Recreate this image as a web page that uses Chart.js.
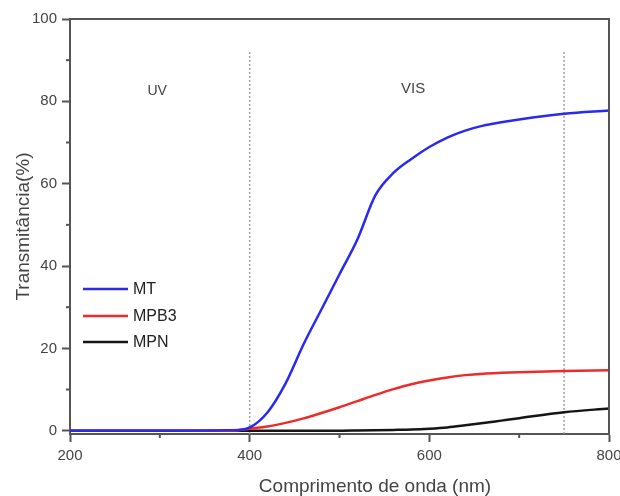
<!DOCTYPE html>
<html>
<head>
<meta charset="utf-8">
<script src="https://cdn.jsdelivr.net/npm/chart.js@4/dist/chart.umd.min.js"></script>
<style>
    html, body { margin: 0; padding: 0; background: #fff; }
    #wrap { width: 620px; height: 496px; }
</style>
</head>
<body>
<div id="wrap"><canvas id="transChart" width="620" height="496"></canvas></div>
<script>
// ========== 数据 ==========
const wavelengths = [200, 300, 380, 400, 420, 440, 460, 480, 500, 520, 540, 560, 580, 600, 620, 640, 660, 680, 700, 750, 800];
const mtValues    = [0, 0, 0.1, 0.8, 4.5, 11.5, 21, 29.5, 38, 46.5, 57.2, 62.6, 66.0, 68.9, 71.2, 72.9, 74.1, 74.9, 75.6, 77.0, 77.8];
const mpb3Values  = [0, 0, 0, 0.5, 1.0, 1.9, 3.0, 4.3, 5.7, 7.2, 8.7, 10.1, 11.3, 12.2, 12.95, 13.5, 13.85, 14.05, 14.2, 14.5, 14.7];
const mpnValues   = [0, 0, 0, 0, 0, 0, 0, 0, 0, 0.05, 0.12, 0.2, 0.3, 0.5, 0.8, 1.3, 1.85, 2.45, 3.05, 4.5, 5.4];
const seriesNames = ['MT', 'MPB3', 'MPN'];
const seriesColors = ['#2a2aee', '#ee2a2a', '#151515'];
const regionLines = [400, 750];
const regionLabels = [{ text: 'UV', x: 297, y: 82.5, size: 14 }, { text: 'VIS', x: 582, y: 83, size: 15 }];
const xTitle = 'Comprimento de onda (nm)';

const fontFamily = '"Liberation Sans", Arial, sans-serif';
const axisColor = '#555';
const textColor = '#444';

function toPoints(vals) {
    return wavelengths.map((w, i) => ({ x: w, y: vals[i] }));
}

// ========== 自定义绘制 ==========
const decorPlugin = {
    id: 'decor',
    beforeDatasetsDraw(chart) {
        const ctx = chart.ctx;
        const xs = chart.scales.x;
        const ys = chart.scales.y;
        ctx.save();
        // 虚线分区
        ctx.setLineDash([2, 2]);
        ctx.lineWidth = 1.5;
        ctx.strokeStyle = '#a0a0a0';
        regionLines.forEach(v => {
            const px = xs.getPixelForValue(v);
            ctx.beginPath();
            ctx.moveTo(px, ys.getPixelForValue(92));
            ctx.lineTo(px, ys.bottom);
            ctx.stroke();
        });
        ctx.setLineDash([]);
        // 区域文字
        ctx.fillStyle = textColor;
        ctx.textAlign = 'center';
        ctx.textBaseline = 'middle';
        regionLabels.forEach(l => {
            ctx.font = l.size + 'px ' + fontFamily;
            ctx.fillText(l.text, xs.getPixelForValue(l.x), ys.getPixelForValue(l.y));
        });
        ctx.restore();
    },
    afterDraw(chart) {
        const ctx = chart.ctx;
        const xs = chart.scales.x;
        const ys = chart.scales.y;
        const a = chart.chartArea;
        ctx.save();
        // 上边框和右边框
        ctx.strokeStyle = axisColor;
        ctx.lineWidth = 2;
        ctx.beginPath();
        ctx.moveTo(a.left, a.top);
        ctx.lineTo(a.right, a.top);
        ctx.lineTo(a.right, a.bottom);
        ctx.stroke();
        // 次刻度
        [300, 500, 700].forEach(v => {
            const px = xs.getPixelForValue(v);
            ctx.beginPath();
            ctx.moveTo(px, a.bottom);
            ctx.lineTo(px, a.bottom + 4);
            ctx.stroke();
        });
        [10, 30, 50, 70, 90].forEach(v => {
            const py = ys.getPixelForValue(v);
            ctx.beginPath();
            ctx.moveTo(a.left, py);
            ctx.lineTo(a.left - 4, py);
            ctx.stroke();
        });
        // X轴标题
        ctx.fillStyle = textColor;
        ctx.font = '19px ' + fontFamily;
        ctx.textAlign = 'center';
        ctx.textBaseline = 'middle';
        ctx.fillText(xTitle, 375, 487);
        // 图例
        ctx.font = '16px ' + fontFamily;
        ctx.textAlign = 'left';
        const legendY = [289, 316, 342];
        chart.data.datasets.forEach((ds, i) => {
            ctx.strokeStyle = ds.borderColor;
            ctx.lineWidth = 2.5;
            ctx.beginPath();
            ctx.moveTo(83, legendY[i]);
            ctx.lineTo(128, legendY[i]);
            ctx.stroke();
            ctx.fillStyle = '#222';
            ctx.fillText(ds.label, 133, legendY[i] + 1);
        });
        ctx.restore();
    }
};

const ctx = document.getElementById('transChart').getContext('2d');
new Chart(ctx, {
    type: 'line',
    data: {
        datasets: seriesNames.map((name, i) => ({
            label: name,
            data: toPoints([mtValues, mpb3Values, mpnValues][i]),
            borderColor: seriesColors[i],
            borderWidth: 2.5,
            pointRadius: 0,
            fill: false,
            cubicInterpolationMode: 'monotone',
            clip: 4
        }))
    },
    options: {
        responsive: false,
        animation: false,
        layout: { padding: { top: 19, right: 11, left: 0, bottom: 0 } },
        plugins: {
            legend: { display: false },
            tooltip: { enabled: false }
        },
        scales: {
            x: {
                type: 'linear',
                min: 200,
                max: 800,
                border: { color: axisColor, width: 2 },
                grid: {
                    drawOnChartArea: false,
                    tickLength: 8,
                    tickWidth: 2,
                    tickColor: c => (c.tick && c.tick.value % 200 === 0) ? axisColor : 'rgba(0,0,0,0)'
                },
                ticks: {
                    stepSize: 100,
                    padding: 5,
                    color: textColor,
                    font: { family: fontFamily, size: 15 },
                    callback: v => (v % 200 === 0 ? v : '')
                },
                afterFit: s => { s.height = 62; s.paddingLeft = 0; s.paddingRight = 0; }
            },
            y: {
                min: -0.8,
                max: 100,
                border: { color: axisColor, width: 2 },
                grid: {
                    drawOnChartArea: false,
                    tickLength: 8,
                    tickWidth: 2,
                    tickColor: axisColor
                },
                ticks: {
                    stepSize: 20,
                    includeBounds: false,
                    padding: 5,
                    color: textColor,
                    font: { family: fontFamily, size: 15 }
                },
                title: {
                    display: true,
                    text: 'Transmitância(%)',
                    color: textColor,
                    font: { family: fontFamily, size: 19 },
                    padding: { top: 12 }
                },
                afterFit: s => { s.width = 70; s.paddingTop = 0; s.paddingBottom = 0; }
            }
        }
    },
    plugins: [decorPlugin]
});
</script>
</body>
</html>
